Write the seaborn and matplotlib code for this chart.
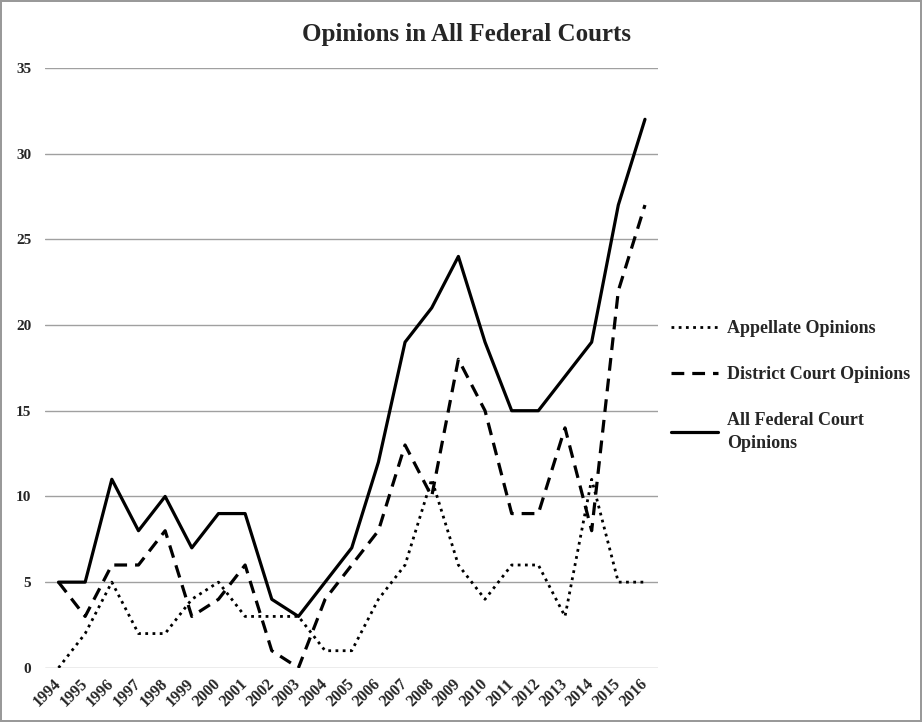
import pandas as pd
import matplotlib.pyplot as plt
import seaborn as sns

# values
years = list(range(1994, 2017))
appellate = [0, 2, 5, 2, 2, 4, 5, 3, 3, 3, 1, 1, 4, 6, 11, 6, 4, 6, 6, 3, 11, 5, 5]
district = [5, 3, 6, 6, 8, 3, 4, 6, 1, 0, 4, 6, 8, 13, 10, 18, 15, 9, 9, 14, 8, 22, 27]
all_federal = [5, 5, 11, 8, 10, 7, 9, 9, 4, 3, 5, 7, 12, 19, 21, 24, 19, 15, 15, 17, 19, 27, 32]
series_names = ['Appellate Opinions', 'District Court Opinions', 'All Federal Court\nOpinions']

df = pd.DataFrame({'year': years, 'appellate': appellate,
                   'district': district, 'all': all_federal})

sns.set_style('white')
plt.rcParams['font.family'] = ['Liberation Serif', 'DejaVu Serif']
plt.rcParams['font.weight'] = 'bold'

fig = plt.figure(figsize=(9.22, 7.22), dpi=100)
fig.patch.set_edgecolor('#999999')
fig.patch.set_linewidth(1.5)
ax = fig.add_axes([0.049, 0.075, 0.665, 0.831])

sns.lineplot(x='year', y='appellate', data=df, ax=ax, color='black',
             linestyle=(0, (1, 1.6)), linewidth=2, label=series_names[0])
sns.lineplot(x='year', y='district', data=df, ax=ax, color='black',
             linestyle=(0, (4, 2.5)), linewidth=2.3, label=series_names[1])
sns.lineplot(x='year', y='all', data=df, ax=ax, color='black',
             linestyle='-', linewidth=2.3, label=series_names[2])

ax.set_xlim(1993.5, 2016.5)
ax.set_ylim(0, 35)
ax.set_yticks(range(0, 36, 5))
ax.set_xticks(years)
ax.set_xticklabels([str(y) for y in years], rotation=45, ha='right', va='center',
                   rotation_mode='anchor', fontsize=11.5, fontweight='bold')
ax.set_yticklabels([str(v) for v in range(0, 36, 5)], fontsize=11, fontweight='bold')
ax.tick_params(axis='x', length=0, pad=10)
ax.tick_params(axis='y', length=0, pad=10)
ax.yaxis.grid(True, color='#a0a0a0', linewidth=1)
ax.set_axisbelow(True)
for s in ax.spines.values():
    s.set_visible(False)
ax.set_xlabel('')
ax.set_ylabel('')

fig.text(0.506, 0.952, 'Opinions in All Federal Courts', ha='center', va='center',
         fontsize=18, fontweight='bold')

leg = ax.legend(loc='center left', bbox_to_anchor=(0.995, 0.47), frameon=False,
                handlelength=2.6, labelspacing=1.6, handletextpad=0.5,
                prop={'weight': 'bold', 'size': 13})
leg.get_texts()[2].set_linespacing(1.45)

plt.savefig('out.png', dpi=100)
